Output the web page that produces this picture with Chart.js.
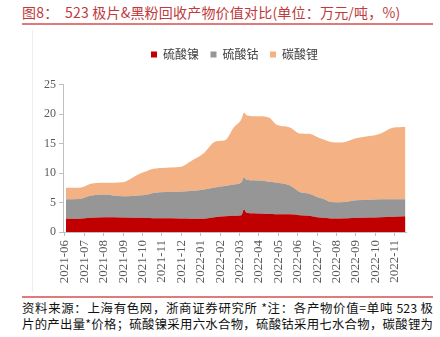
<!DOCTYPE html>
<html>
<head>
<meta charset="utf-8">
<script src="https://cdn.jsdelivr.net/npm/chart.js@4/dist/chart.umd.min.js"></script>
<style>
  body { margin: 0; width: 440px; height: 337px; background: #fff; position: relative; overflow: hidden; font-family: "Noto Sans CJK SC", sans-serif; }
  #title { position: absolute; left: 22px; top: 2px; font-size: 14px; letter-spacing: 0.2px; color: #c0393b; white-space: nowrap; }
  .rule { position: absolute; left: 22px; width: 411px; height: 2px; background: #e07b7b; }
  #side { position: absolute; left: 32px; top: 30px; width: 1px; height: 262px; background: #eeeeee; }
  #wrap { position: absolute; left: 32px; top: 28px; width: 408px; height: 268px; }
  .note { position: absolute; left: 22px; width: 411px; font-size: 12.4px; color: #111; text-align: justify; text-align-last: justify; white-space: nowrap; line-height: 16px; }
</style>
</head>
<body>
<div id="title">图8：&nbsp; 523 极片&amp;黑粉回收产物价值对比(单位：万元/吨，%)</div>
<div class="rule" style="top:23px"></div>
<div id="side"></div>
<div id="wrap"><canvas id="c" width="408" height="268"></canvas></div>
<div class="rule" style="top:296px"></div>
<div class="note" style="top:300px">资料来源：上海有色网，浙商证券研究所 *注：各产物价值=单吨 523 极</div>
<div class="note" style="top:316px">片的产出量*价格；硫酸镍采用六水合物，硫酸钴采用七水合物，碳酸锂为</div>
<script>
const months = ['2021-06','2021-07','2021-08','2021-09','2021-10','2021-11','2021-12',
  '2022-01','2022-02','2022-03','2022-04','2022-05','2022-06','2022-07','2022-08',
  '2022-09','2022-10','2022-11'];

// sample positions, in months since 2021-06
const xs = [0.05, 0.75, 1.3, 2.0, 3.0, 3.2, 3.8, 4.2, 4.55, 5.2, 5.9, 6.1, 6.45, 7.1, 7.8,
  8.25, 8.7, 9.1, 9.23, 9.36, 10.05, 10.55, 10.85, 11.6, 12.1, 12.6, 13.0, 13.3, 13.7,
  14.2, 15.0, 15.7, 16.25, 16.9, 17.55];

const nickel = [2.24, 2.25, 2.40, 2.50, 2.47, 2.45, 2.40, 2.37, 2.35, 2.35, 2.30, 2.28, 2.25,
  2.25, 2.55, 2.65, 2.75, 2.85, 3.80, 3.25, 3.13, 3.05, 3.02, 3.00, 2.85, 2.74, 2.50, 2.40,
  2.30, 2.29, 2.40, 2.45, 2.50, 2.57, 2.68];
const cobalt = [3.30, 3.35, 3.75, 3.87, 3.58, 3.60, 3.80, 3.93, 4.25, 4.45, 4.52, 4.57, 4.68,
  4.90, 5.05, 5.15, 5.30, 5.60, 5.50, 5.60, 5.59, 5.45, 5.38, 4.90, 3.95, 3.76, 3.45, 3.25,
  2.80, 2.74, 2.97, 3.00, 3.04, 2.98, 2.86];
const lithium = [1.96, 1.90, 2.00, 1.98, 2.40, 2.65, 3.60, 4.00, 4.10, 4.10, 4.18, 4.35, 4.97,
  6.05, 7.80, 7.75, 9.65, 10.65, 10.90, 10.95, 10.88, 10.85, 9.90, 9.80, 9.90, 10.15, 10.15,
  10.05, 10.17, 10.12, 10.53, 10.82, 11.13, 12.12, 12.24];

const pts = arr => arr.map((v, i) => ({ x: xs[i], y: v }));
const area = (label, arr, color, fill) => ({
  label, data: pts(arr), backgroundColor: color, borderColor: color, borderWidth: 0,
  pointRadius: 0, fill, cubicInterpolationMode: 'monotone'
});

const axisColor = '#bfbfbf';
const tickFont = { family: 'Liberation Serif', size: 12 };

// a bit more room under the legend
const legendGap = {
  id: 'legendGap',
  beforeInit(chart) {
    const fit = chart.legend.fit;
    chart.legend.fit = function () { fit.call(this); this.height += 14; };
  }
};

new Chart(document.getElementById('c'), {
  type: 'line',
  data: {
    datasets: [
      area('硫酸镍', nickel, '#c00000', 'origin'),
      area('硫酸钴', cobalt, '#969696', '-1'),
      area('碳酸锂', lithium, '#f4b183', '-1')
    ]
  },
  plugins: [legendGap],
  options: {
    responsive: false,
    animation: false,
    layout: { padding: { left: 12, right: 34, top: 9, bottom: 4 } },
    plugins: {
      tooltip: { enabled: false },
      legend: {
        fullSize: false,
        labels: {
          boxWidth: 6, boxHeight: 6, padding: 11.5, color: '#404040',
          font: { family: 'Noto Sans CJK SC', size: 12 }
        }
      }
    },
    scales: {
      x: {
        type: 'linear', min: -0.1, max: 17.58,
        afterBuildTicks: s => { s.ticks = months.map((_, i) => ({ value: i })); },
        afterFit: s => { s.height = 60; },
        ticks: {
          callback: v => months[v] || '', maxRotation: 90, minRotation: 90,
          autoSkip: false, color: '#595959', font: { family: 'Liberation Serif', size: 13 }, padding: 4
        },
        grid: { drawOnChartArea: false, tickLength: 4, color: axisColor },
        border: { color: axisColor }
      },
      y: {
        stacked: true, min: 0, max: 25,
        afterFit: s => { s.width = 19; },
        ticks: { stepSize: 5, color: '#595959', font: tickFont, padding: 3 },
        grid: { drawOnChartArea: false, tickLength: 4, color: axisColor },
        border: { color: axisColor }
      }
    }
  }
});
</script>
</body>
</html>
